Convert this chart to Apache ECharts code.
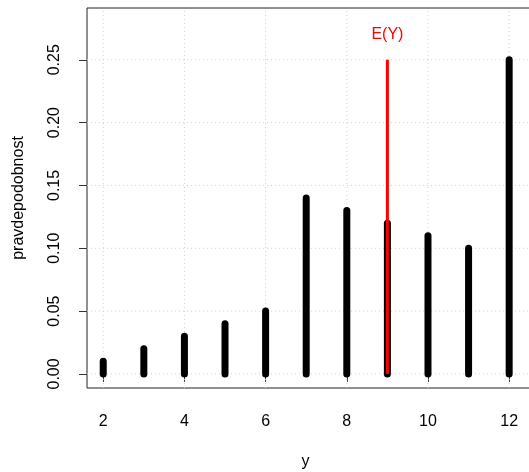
<!DOCTYPE html>
<html>
<head>
<meta charset="utf-8">
<script src="https://cdn.jsdelivr.net/npm/echarts@6/dist/echarts.min.js"></script>
<style>
  html, body { margin: 0; padding: 0; background: #fff; overflow: hidden; }
  #main { width: 529px; height: 472px; }
</style>
</head>
<body>
<div id="main"></div>
<script>
// values of Y and their probabilities
const yValues = [2, 3, 4, 5, 6, 7, 8, 9, 10, 11, 12];
const probs = [0.01, 0.02, 0.03, 0.04, 0.05, 0.14, 0.13, 0.12, 0.11, 0.10, 0.25];

// axis ticks
const xTicks = [2, 4, 6, 8, 10, 12];
const yTicks = [0, 0.05, 0.10, 0.15, 0.20, 0.25];

// expectation marker
const expLabel = 'E(Y)';
const expTop = 0.25;
const expLabelY = 0.27;

const xLim = [1.6, 13.4];
const yLim = [-0.0112, 0.2912];
const font = 'Liberation Sans, Arial, sans-serif';

const meanY = yValues.reduce((s, v, i) => s + v * probs[i], 0);

const chart = echarts.init(document.getElementById('main'), null, { renderer: 'canvas' });

// dotted grid, drawn through the axes
const gridData = xTicks.map(v => ['x', v]).concat(yTicks.map(v => ['y', v]));

chart.setOption({
  animation: false,
  grid: {
    // plot region runs past the right edge of the picture, as in the original
    left: 87, top: 8, width: 479, height: 380,
    outerBoundsMode: 'none',
    show: true, borderColor: '#222', borderWidth: 1
  },
  xAxis: {
    type: 'value', min: xLim[0], max: xLim[1],
    axisLine: { show: false },
    splitLine: { show: false },
    axisTick: { customValues: xTicks, length: 8, lineStyle: { color: '#333' } },
    axisLabel: { customValues: xTicks, margin: 26, fontSize: 16, color: '#000', fontFamily: font },
    name: 'y', nameLocation: 'middle', nameGap: 66,
    nameTextStyle: { fontSize: 16, color: '#000', fontFamily: font, padding: [0, 42, 0, 0] }
  },
  yAxis: {
    type: 'value', min: yLim[0], max: yLim[1],
    axisLine: { show: false },
    splitLine: { show: false },
    axisTick: { customValues: yTicks, length: 8, lineStyle: { color: '#333' } },
    axisLabel: {
      customValues: yTicks, margin: 24, rotate: 90, fontSize: 16, color: '#000', fontFamily: font,
      formatter: v => v.toFixed(2)
    },
    name: 'pravdepodobnost', nameLocation: 'middle', nameGap: 60,
    nameTextStyle: { fontSize: 16, color: '#000', fontFamily: font }
  },
  series: [
    {
      type: 'custom', z: 1, silent: true,
      data: gridData,
      renderItem: (params, api) => {
        const d = gridData[params.dataIndex];
        const p1 = d[0] === 'x' ? api.coord([d[1], yLim[0]]) : api.coord([xLim[0], d[1]]);
        const p2 = d[0] === 'x' ? api.coord([d[1], yLim[1]]) : api.coord([xLim[1], d[1]]);
        return {
          type: 'line',
          shape: { x1: p1[0], y1: p1[1], x2: p2[0], y2: p2[1] },
          style: { stroke: '#d0d0d0', lineWidth: 1, lineDash: [1, 3] }
        };
      }
    },
    {
      type: 'custom', z: 2, silent: true,
      data: yValues.map((v, i) => [v, probs[i]]),
      renderItem: (params, api) => {
        const p0 = api.coord([api.value(0), 0]);
        const p1 = api.coord([api.value(0), api.value(1)]);
        return {
          type: 'line',
          shape: { x1: p0[0], y1: p0[1], x2: p1[0], y2: p1[1] },
          style: { stroke: '#000', lineWidth: 7, lineCap: 'round' }
        };
      }
    },
    {
      type: 'custom', z: 3, silent: true,
      data: [[meanY, expTop]],
      renderItem: (params, api) => {
        const p0 = api.coord([api.value(0), 0]);
        const p1 = api.coord([api.value(0), api.value(1)]);
        const pt = api.coord([api.value(0), expLabelY]);
        return {
          type: 'group',
          children: [
            {
              type: 'line',
              shape: { x1: p0[0], y1: p0[1], x2: p1[0], y2: p1[1] },
              style: { stroke: '#ff0000', lineWidth: 3, lineCap: 'butt' }
            },
            {
              type: 'text',
              x: pt[0], y: pt[1],
              style: {
                text: expLabel, fill: '#ff0000', fontSize: 16, fontFamily: font,
                align: 'center', verticalAlign: 'middle'
              }
            }
          ]
        };
      }
    }
  ]
});
</script>
</body>
</html>
